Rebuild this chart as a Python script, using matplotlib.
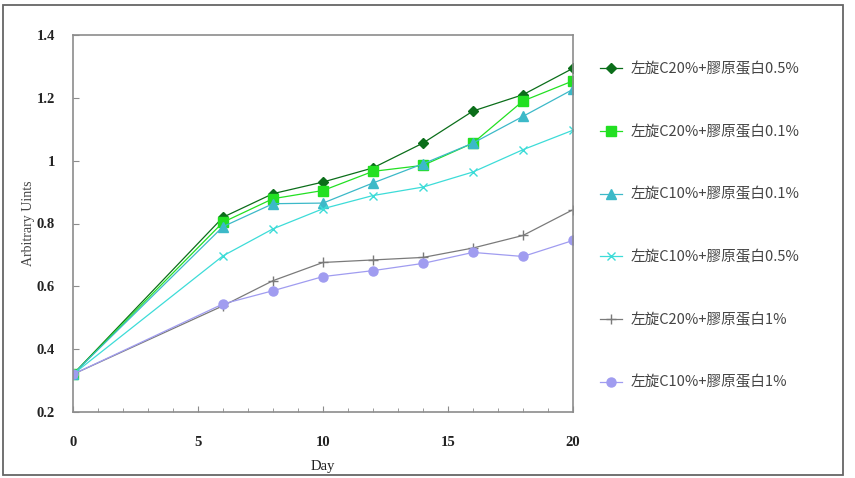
import matplotlib.pyplot as plt
from matplotlib.patches import Rectangle
from matplotlib.ticker import MultipleLocator

# data
days = [0, 6, 8, 10, 12, 14, 16, 18, 20]
c20_col05 = [0.32, 0.82, 0.895, 0.932, 0.977, 1.056, 1.158, 1.21, 1.294]
c20_col01 = [0.32, 0.804, 0.879, 0.905, 0.966, 0.985, 1.056, 1.19, 1.254]
c10_col01 = [0.32, 0.79, 0.863, 0.865, 0.929, 0.99, 1.056, 1.141, 1.227]
c10_col05 = [0.32, 0.697, 0.783, 0.847, 0.889, 0.916, 0.964, 1.035, 1.097]
c20_col1 = [0.32, 0.538, 0.618, 0.676, 0.684, 0.692, 0.722, 0.762, 0.844]
c10_col1 = [0.32, 0.544, 0.586, 0.631, 0.65, 0.673, 0.708, 0.695, 0.746]

labels = ["左旋C20%+膠原蛋白0.5%", "左旋C20%+膠原蛋白0.1%", "左旋C10%+膠原蛋白0.1%",
          "左旋C10%+膠原蛋白0.5%", "左旋C20%+膠原蛋白1%", "左旋C10%+膠原蛋白1%"]

serif = "Liberation Serif"

fig = plt.figure(figsize=(8.55, 4.78), dpi=100)
ax = fig.add_axes([73 / 855, 1 - 412 / 478, 500 / 855, 377 / 478])

ax.plot(days, c20_col05, color="#0b6e1a", marker="D", ms=5.5, lw=0.9, label=labels[0])
ax.plot(days, c20_col01, color="#22e022", marker="s", ms=6.5, lw=0.9, label=labels[1])
ax.plot(days, c10_col01, color="#3cb9c8", marker="^", ms=7, lw=0.9, label=labels[2])
ax.plot(days, c10_col05, color="#3ddcd8", marker="x", ms=6, mew=1.0, lw=0.9, label=labels[3])
ax.plot(days, c20_col1, color="#7a7a7a", marker="+", ms=7, mew=1.0, lw=0.9, label=labels[4])
ax.plot(days, c10_col1, color="#a09cf0", marker="o", ms=6.5, lw=0.9, label=labels[5])

ax.set_xlim(0, 20)
ax.set_ylim(0.2, 1.4)
ax.xaxis.set_major_locator(MultipleLocator(5))
ax.xaxis.set_minor_locator(MultipleLocator(1))
ax.set_yticks([0.2, 0.4, 0.6, 0.8, 1.0, 1.2, 1.4])
ax.set_yticklabels(["0.2", "0.4", "0.6", "0.8", "1", "1.2", "1.4"])

for s in ax.spines.values():
    s.set_color("#8c8c8c")
    s.set_linewidth(1.2)

ax.tick_params(axis="y", which="major", direction="in", length=4, color="#8c8c8c",
               pad=13, labelsize=10.5, labelcolor="#222222")
ax.tick_params(axis="x", which="major", direction="in", length=4, color="#8c8c8c",
               pad=17, labelsize=10.5, labelcolor="#222222")
ax.tick_params(axis="x", which="minor", direction="in", length=3, color="#8c8c8c")
for t in ax.get_xticklabels() + ax.get_yticklabels():
    t.set_fontfamily(serif)
    t.set_fontweight("bold")

ax.set_xlabel("Day", fontfamily=serif, fontsize=10.5, color="#222222", labelpad=8)
ax.set_ylabel("Arbitrary Uints", fontfamily=serif, fontsize=10, color="#444444", labelpad=1)

leg = ax.legend(loc="upper left", bbox_to_anchor=(600 / 855, 1 - 62 / 478),
                bbox_transform=fig.transFigure, frameon=False, borderpad=0,
                borderaxespad=0, handlelength=1.5, handletextpad=0.6,
                labelspacing=3.31, prop={"family": ["Noto Sans CJK TC", "DejaVu Sans"], "size": 10.5})
for t in leg.get_texts():
    t.set_color("#444444")

# outer frame around the whole chart
fig.patches.append(Rectangle((3 / 855, 3 / 478), 840 / 855, 470 / 478, transform=fig.transFigure,
                             fill=False, edgecolor="#666666", lw=1.3))

fig.savefig("out.png", dpi=100)
